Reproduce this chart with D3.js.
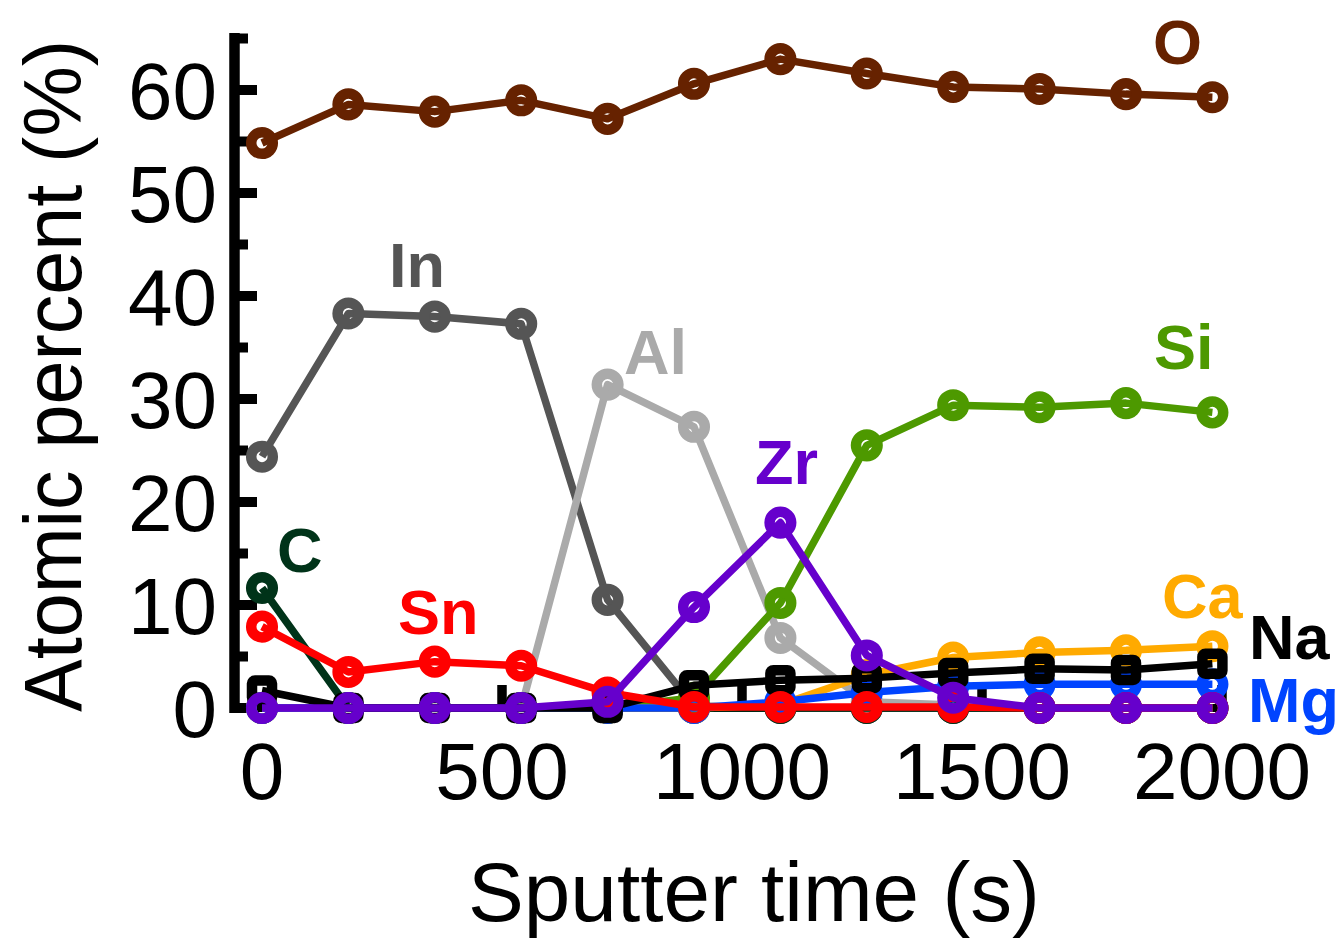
<!DOCTYPE html>
<html>
<head>
<meta charset="utf-8">
<script src="https://cdn.jsdelivr.net/npm/d3@7"></script>
<style>
  html, body { margin: 0; padding: 0; background: #ffffff; }
  svg { display: block; }
  text { font-family: "Liberation Sans", Arial, Helvetica, sans-serif; }
</style>
</head>
<body>
<svg id="chart" width="1344" height="942"></svg>
<script>
// ---- data ----
const time = [0, 180, 360, 540, 720, 900, 1080, 1260, 1440, 1620, 1800, 1980];
const O  = [54.85, 58.6, 57.9, 59.0, 57.2, 60.6, 63.0, 61.6, 60.3, 60.1, 59.6, 59.3];
const In = [24.4, 38.3, 38.0, 37.3, 10.5, 0.2, 0, 0, 0, 0, 0, 0];
const Al = [0, 0, 0, 0, 31.4, 27.3, 6.8, 0.6, 0.3, 0, 0, 0];
const C  = [11.65, 0, 0, 0, 0, 0, 0, 0, 0, 0, 0, 0];
const Si = [0, 0, 0, 0, 0, 1.0, 10.2, 25.5, 29.4, 29.2, 29.6, 28.7];
const Ca = [0, 0, 0, 0, 0, 0, 0.3, 3.2, 4.9, 5.4, 5.6, 6.0];
const Mg = [0, 0, 0, 0, 0, 0, 0.6, 1.5, 2.1, 2.3, 2.3, 2.3];
const Na = [1.7, 0, 0, 0, 0, 2.2, 2.7, 2.9, 3.4, 3.8, 3.7, 4.3];
const Sn = [7.9, 3.5, 4.5, 4.1, 1.5, 0.1, 0.1, 0.1, 0.1, 0, 0, 0];
const Zr = [0, 0, 0, 0, 0.6, 9.8, 18.0, 5.1, 1.0, 0, 0, 0];

const xTickValues = [0, 500, 1000, 1500, 2000];
const yMajorTicks = [0, 10, 20, 30, 40, 50, 60];
const yMinorTicks = [5, 15, 25, 35, 45, 55, 65];

const xTitle = "Sputter time (s)";
const yTitle = "Atomic percent (%)";

// series in drawing order (bottom to top)
const series = [
  { name: "O",  values: O,  color: "#662200", marker: "circle", lx: 1153, ly: 64 },
  { name: "In", values: In, color: "#555555", marker: "circle", lx: 389,  ly: 287 },
  { name: "Al", values: Al, color: "#aaaaaa", marker: "circle", lx: 624,  ly: 374 },
  { name: "C",  values: C,  color: "#003319", marker: "circle", lx: 277,  ly: 572 },
  { name: "Si", values: Si, color: "#4d9900", marker: "circle", lx: 1154, ly: 369 },
  { name: "Ca", values: Ca, color: "#ffaa00", marker: "circle", lx: 1162, ly: 618 },
  { name: "Mg", values: Mg, color: "#0044ff", marker: "circle", lx: 1248, ly: 722 },
  { name: "Na", values: Na, color: "#000000", marker: "square", lx: 1249, ly: 659 },
  { name: "Sn", values: Sn, color: "#ff0000", marker: "circle", lx: 398,  ly: 634 },
  { name: "Zr", values: Zr, color: "#6600cc", marker: "circle", lx: 755,  ly: 484 }
];

// ---- scales ----
const svg = d3.select("#chart");
const x = d3.scaleLinear().domain([0, 2000]).range([262, 1222]);
const y = d3.scaleLinear().domain([0, 65]).range([708, 38.5]);

// ---- y axis ----
const axisX = 234.5;
const gy = svg.append("g");
gy.append("line")
  .attr("x1", axisX).attr("x2", axisX)
  .attr("y1", y(65) - 5.5).attr("y2", y(0) + 5)
  .attr("stroke", "#000").attr("stroke-width", 10.5);
gy.selectAll(".maj").data(yMajorTicks).join("line")
  .attr("x1", axisX).attr("x2", 257)
  .attr("y1", d => y(d)).attr("y2", d => y(d))
  .attr("stroke", "#000").attr("stroke-width", 10);
gy.selectAll(".min").data(yMinorTicks).join("line")
  .attr("x1", axisX).attr("x2", 248)
  .attr("y1", d => y(d)).attr("y2", d => y(d))
  .attr("stroke", "#000").attr("stroke-width", 10);
gy.selectAll(".lab").data(yMajorTicks).join("text")
  .attr("x", 217).attr("y", d => y(d) + 28.5)
  .attr("text-anchor", "end")
  .attr("font-size", 80)
  .attr("fill", "#000")
  .text(d => d);

// ---- x axis ----
const gx = svg.append("g");
gx.append("line")
  .attr("x1", axisX).attr("x2", x(2000))
  .attr("y1", y(0)).attr("y2", y(0))
  .attr("stroke", "#000").attr("stroke-width", 8);
gx.selectAll(".tk").data(xTickValues.slice(1)).join("line")
  .attr("x1", d => x(d)).attr("x2", d => x(d))
  .attr("y1", y(0) + 4).attr("y2", y(0) - 23)
  .attr("stroke", "#000").attr("stroke-width", 9.5);
gx.selectAll(".lab").data(xTickValues).join("text")
  .attr("x", d => x(d)).attr("y", 799)
  .attr("text-anchor", "middle")
  .attr("font-size", 80)
  .attr("fill", "#000")
  .text(d => d);

// ---- titles ----
svg.append("text")
  .attr("x", 754).attr("y", 921)
  .attr("text-anchor", "middle")
  .attr("font-size", 83)
  .attr("textLength", 572).attr("lengthAdjust", "spacingAndGlyphs")
  .text(xTitle);
svg.append("text")
  .attr("transform", "translate(81,376) rotate(-90)")
  .attr("text-anchor", "middle")
  .attr("font-size", 82)
  .attr("textLength", 672).attr("lengthAdjust", "spacingAndGlyphs")
  .text(yTitle);

// ---- series ----
const line = d3.line().x((d, i) => x(time[i])).y(d => y(d));
const plot = svg.append("g");
series.forEach(s => {
  const g = plot.append("g");
  g.append("path")
    .attr("d", line(s.values))
    .attr("fill", "none")
    .attr("stroke", s.color)
    .attr("stroke-width", 7.5)
    .attr("stroke-linejoin", "round");
  if (s.marker === "circle") {
    g.selectAll("circle").data(s.values).join("circle")
      .attr("cx", (d, i) => x(time[i]))
      .attr("cy", d => y(d))
      .attr("r", 10.8)
      .attr("fill", "none")
      .attr("stroke", s.color)
      .attr("stroke-width", 10.5);
  } else {
    g.selectAll("rect").data(s.values).join("rect")
      .attr("x", (d, i) => x(time[i]) - 10)
      .attr("y", d => y(d) - 10)
      .attr("width", 20).attr("height", 20)
      .attr("rx", 3)
      .attr("fill", "none")
      .attr("stroke", s.color)
      .attr("stroke-width", 10.5);
  }
});

// ---- element labels ----
svg.append("g").selectAll("text").data(series).join("text")
  .attr("x", d => d.lx).attr("y", d => d.ly)
  .attr("font-size", 63)
  .attr("font-weight", "bold")
  .attr("fill", d => d.color)
  .text(d => d.name);
</script>
</body>
</html>
